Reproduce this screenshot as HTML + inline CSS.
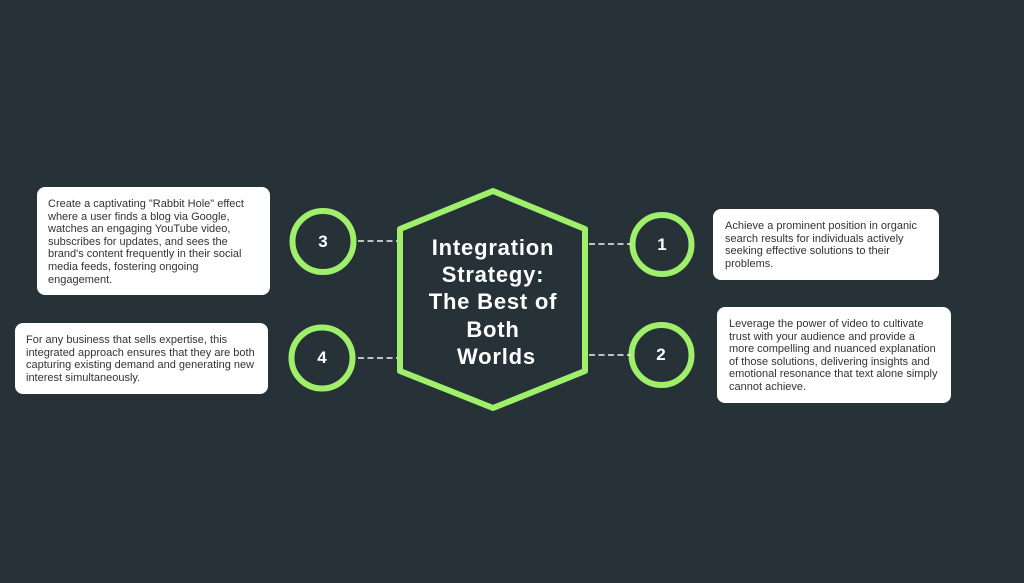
<!DOCTYPE html>
<html><head><meta charset="utf-8"><style>
html,body{margin:0;padding:0;}
body{width:1024px;height:583px;background:#263238;position:relative;overflow:hidden;font-family:"Liberation Sans",sans-serif;}
svg{position:absolute;left:0;top:0;}
.box{position:absolute;background:#fff;border-radius:8px;box-sizing:border-box;color:#333;font-size:11px;line-height:12.6px;white-space:nowrap;}
.title{position:absolute;left:393px;top:234px;width:200px;text-align:center;color:#fff;font-weight:bold;font-size:22px;line-height:27.2px;letter-spacing:0.8px;}
.num{position:absolute;width:40px;text-align:center;color:#fff;font-weight:bold;font-size:17px;line-height:20px;}
</style></head><body>
<svg width="1024" height="583" viewBox="0 0 1024 583">
  <polygon points="493,191 585,229 585,371 493,408 400,371 400,229" fill="none" stroke="#9fef6a" stroke-width="6" stroke-linejoin="round"/>
  <circle cx="323" cy="241.5" r="30.5" fill="none" stroke="#9fef6a" stroke-width="6"/>
  <circle cx="322" cy="358" r="30.5" fill="none" stroke="#9fef6a" stroke-width="6"/>
  <circle cx="662" cy="244.5" r="29.5" fill="none" stroke="#9fef6a" stroke-width="6"/>
  <circle cx="661.5" cy="355" r="30" fill="none" stroke="#9fef6a" stroke-width="6"/>
  <g stroke="#eef1f2" stroke-width="1.5" stroke-dasharray="6,3.5">
    <line x1="358" y1="241" x2="397" y2="241"/>
    <line x1="358" y1="358" x2="397" y2="358"/>
    <line x1="589" y1="244" x2="631" y2="244"/>
    <line x1="589" y1="355" x2="631" y2="355"/>
  </g>
</svg>
<div class="title">Integration<br>Strategy:<br>The Best of<br>Both<br>&nbsp;Worlds</div>
<div class="num" style="left:303px;top:232px;">3</div>
<div class="num" style="left:302px;top:348px;">4</div>
<div class="num" style="left:642px;top:235px;">1</div>
<div class="num" style="left:641px;top:345px;">2</div>

<div class="box" style="left:37px;top:187px;width:233px;height:108px;padding:11px 0 0 11px;">Create a captivating "Rabbit Hole" effect<br>where a user finds a blog via Google,<br>watches an engaging YouTube video,<br>subscribes for updates, and sees the<br>brand's content frequently in their social<br>media feeds, fostering ongoing<br>engagement.</div>
<div class="box" style="left:15px;top:323px;width:253px;height:71px;padding:11px 0 0 11px;">For any business that sells expertise, this<br>integrated approach ensures that they are both<br>capturing existing demand and generating new<br>interest simultaneously.</div>
<div class="box" style="left:713px;top:209px;width:226px;height:71px;padding:11px 0 0 12px;">Achieve a prominent position in organic<br>search results for individuals actively<br>seeking effective solutions to their<br>problems.</div>
<div class="box" style="left:717px;top:307px;width:234px;height:96px;padding:11px 0 0 12px;">Leverage the power of video to cultivate<br>trust with your audience and provide a<br>more compelling and nuanced explanation<br>of those solutions, delivering insights and<br>emotional resonance that text alone simply<br>cannot achieve.</div>
</body></html>
